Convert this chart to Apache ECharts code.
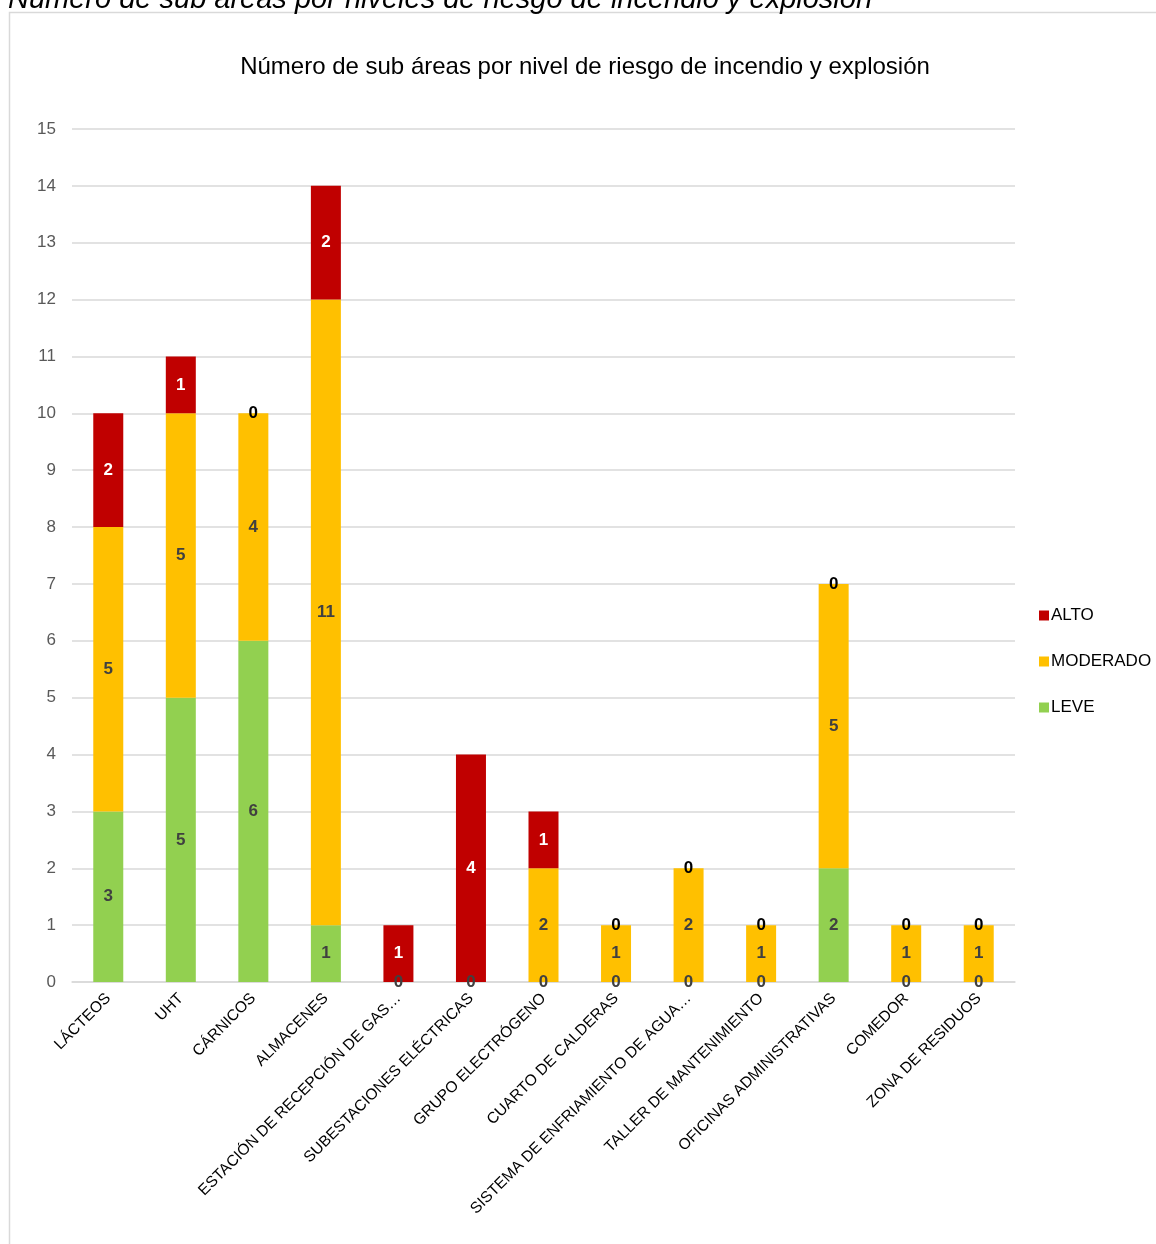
<!DOCTYPE html>
<html><head><meta charset="utf-8">
<script src="https://cdn.jsdelivr.net/npm/echarts@6/dist/echarts.min.js"></script>
<style>html,body{margin:0;padding:0;background:#fff;overflow:hidden}#c{width:1156px;height:1244px}</style>
</head><body><div id="c"></div>
<script>
const categories = ["LÁCTEOS","UHT","CÁRNICOS","ALMACENES","ESTACIÓN DE RECEPCIÓN DE GAS…","SUBESTACIONES ELÉCTRICAS","GRUPO ELECTRÓGENO","CUARTO DE CALDERAS","SISTEMA DE ENFRIAMIENTO DE AGUA…","TALLER DE MANTENIMIENTO","OFICINAS ADMINISTRATIVAS","COMEDOR","ZONA DE RESIDUOS"];
const leve     = [3,5,6,1,0,0,0,0,0,0,2,0,0];
const moderado = [5,5,4,11,0,0,2,1,2,1,5,1,1];
const alto     = [2,1,0,2,1,4,1,0,0,0,0,0,0];
const yTicks = [0,1,2,3,4,5,6,7,8,9,10,11,12,13,14,15];

const chart = echarts.init(document.getElementById('c'), null, {renderer:'canvas'});
const FONT = 'Liberation Sans, Arial, sans-serif';
const lbl = (color) => ({show:true, position:'inside', fontFamily:FONT, fontSize:17, fontWeight:'bold', color:color});
chart.setOption({
  animation:false,
  backgroundColor:'#fff',
  graphic:[
    {type:'rect', shape:{x:9.5,y:12.5,width:1160,height:1260}, style:{fill:'none', stroke:'#d9d9d9', lineWidth:1.5}, silent:true, z:-1},
    {type:'text', x:8, y:0, style:{text:'Número de sub áreas por niveles de riesgo de incendio y explosión', font:'italic 29px '+FONT, fill:'#000', verticalAlign:'middle'}}
  ],
  title:{text:'Número de sub áreas por nivel de riesgo de incendio y explosión', left:580, textAlign:'center', top:50,
    textStyle:{fontFamily:FONT, fontSize:24, fontWeight:'normal', color:'#000'}},
  legend:{orient:'vertical', left:1034, top:602, itemGap:29, itemWidth:10, itemHeight:10, icon:'rect',
    data:['ALTO','MODERADO','LEVE'], textStyle:{fontFamily:FONT, fontSize:17, color:'#000', padding:[0,0,0,-3]}},
  grid:{left:72, right:141, top:129, bottom:262, containLabel:false},
  xAxis:{type:'category', data:categories,
    axisLine:{lineStyle:{color:'#d9d9d9', width:1.5}}, axisTick:{show:false},
    axisLabel:{rotate:45, interval:0, fontFamily:FONT, fontSize:15.5, color:'#000', margin:14}},
  yAxis:{type:'value', min:0, max:15, interval:1,
    axisLine:{show:false}, axisTick:{show:false},
    splitLine:{lineStyle:{color:'#d9d9d9', width:1.5}},
    axisLabel:{fontFamily:FONT, fontSize:17, color:'#595959', margin:16}},
  series:[
    {name:'LEVE', type:'bar', stack:'s', barWidth:30, itemStyle:{color:'#92D050'}, label:lbl('#404040'), data:leve},
    {name:'MODERADO', type:'bar', stack:'s', barWidth:30, itemStyle:{color:'#FFC000'}, label:lbl('#404040'),
      data:moderado.map((v,i)=>({value:v, label:{show: !(v===0 && leve[i]===0)}}))},
    {name:'ALTO', type:'bar', stack:'s', barWidth:30, itemStyle:{color:'#C00000'}, label:lbl('#fff'),
      data:alto.map((v,i)=>({value:v, label:{show: !(v===0 && leve[i]+moderado[i]===0) , color: v===0 ? '#000' : '#fff'}}))}
  ]
});
</script></body></html>
